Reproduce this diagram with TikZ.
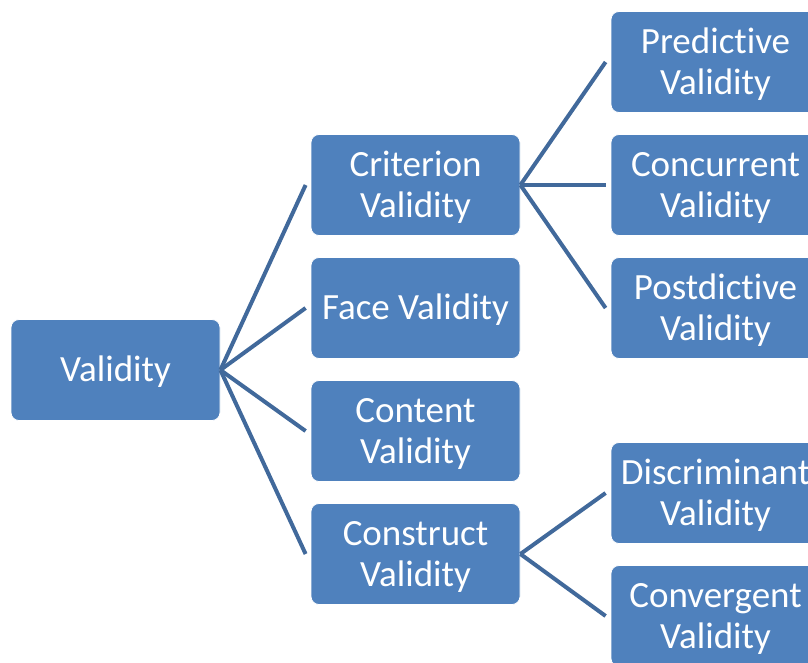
\documentclass[tikz,border=0pt]{standalone}
\usepackage{fontspec}
\setmainfont[Ligatures={NoCommon,NoRare}]{Carlito}
\usetikzlibrary{calc}
\definecolor{boxblue}{HTML}{4F81BD}
\definecolor{linkblue}{HTML}{41699B}
\newcommand{\nolig}{\kern0pt\relax}
\begin{document}
\begin{tikzpicture}[x=1pt,y=-1pt,
  vbox/.style={draw=white,line width=0.8pt,fill=boxblue,rounded corners=8pt,minimum width=209pt,minimum height=101pt,
    text=white,align=center,inner sep=0pt,font=\fontsize{37}{41.5}\selectfont},
  one/.style={text height=33pt,text depth=10pt},
  two/.style={text height=75pt,text depth=10pt},
  link/.style={draw=linkblue,line width=4pt}]
\useasboundingbox (0,0) rectangle (808,662);
\clip (0,0) rectangle (808,662);
\node[vbox,one] (val) at (115.5,370) {Validity};
\node[vbox,two] (crit) at (415.5,185) {Criterion\\Validity};
\node[vbox,one] (face) at (415.5,308) {Face Validity};
\node[vbox,two] (cont) at (415.5,431) {Content\\Validity};
\node[vbox,two] (cons) at (415.5,554) {Construct\\Validity};
\node[vbox,two] (pred) at (715.5,62) {Predict\nolig ive\\Validity};
\node[vbox,two] (conc) at (715.5,185) {Concurrent\\Validity};
\node[vbox,two] (post) at (715.5,308) {Postdict\nolig ive\\Validity};
\node[vbox,two] (disc) at (715.5,493) {Discriminant\\Validity};
\node[vbox,two] (conv) at (715.5,616) {Convergent\\Validity};
\foreach \c in {crit,face,cont,cons}{
  \draw[link] (val.east) -- ($(\c.west)+(-5,0)$);
}
\foreach \c in {pred,conc,post}{
  \draw[link] (crit.east) -- ($(\c.west)+(-5,0)$);
}
\foreach \c in {disc,conv}{
  \draw[link] (cons.east) -- ($(\c.west)+(-5,0)$);
}
\end{tikzpicture}
\end{document}
